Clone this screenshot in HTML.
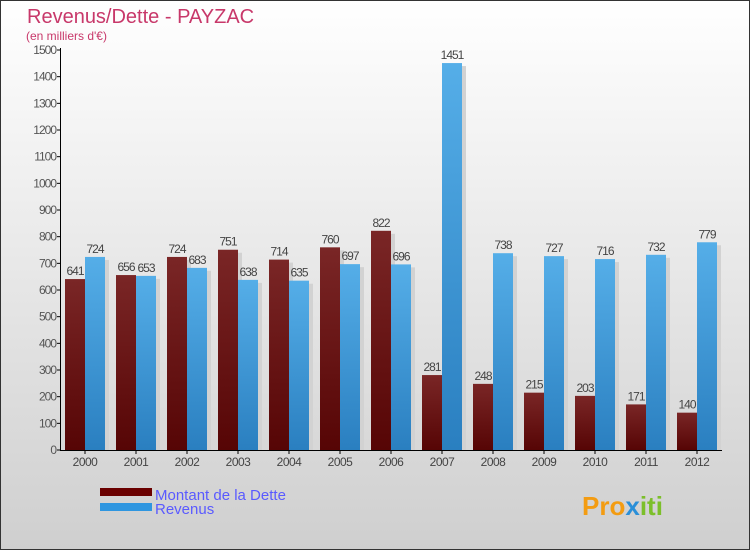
<!DOCTYPE html>
<html><head><meta charset="utf-8"><style>
body{margin:0}
svg{display:block;font-family:"Liberation Sans",sans-serif}
</style></head><body>
<svg id="c" width="750" height="550">
<defs>
<linearGradient id="bg" x1="0" y1="0" x2="0" y2="1"><stop offset="0" stop-color="#ffffff"/><stop offset="1" stop-color="#cfcfcf"/></linearGradient>
<linearGradient id="gd" x1="0" y1="0" x2="0" y2="1"><stop offset="0" stop-color="#7a2626"/><stop offset="1" stop-color="#560505"/></linearGradient>
<linearGradient id="gr" x1="0" y1="0" x2="0" y2="1"><stop offset="0" stop-color="#55aee8"/><stop offset="1" stop-color="#2a7fc0"/></linearGradient>
</defs>
<rect x="0.5" y="0.5" width="749" height="549" fill="url(#bg)" stroke="#333"/>
<text x="27" y="23" font-size="20" fill="#c8386a">Revenus/Dette - PAYZAC</text>
<text x="26" y="40" font-size="12" fill="#c8386a">(en milliers d'€)</text>
<g id="axes"></g><g id="bars"></g>
<rect x="100" y="488" width="52" height="8" fill="#6a0000"/>
<text x="155" y="500" font-size="15" fill="#5a5aff">Montant de la Dette</text>
<rect x="100" y="503" width="52" height="8" fill="#2f96e0"/>
<text x="155" y="514" font-size="15" fill="#5a5aff">Revenus</text>
<text x="582" y="515" font-size="26" font-weight="bold" fill="#f39c12">Pro<tspan fill="#2a8fd8">x</tspan><tspan fill="#7cbf2a">iti</tspan></text>
</svg>
<script>
const categories=["2000","2001","2002","2003","2004","2005","2006","2007","2008","2009","2010","2011","2012"];
const dette=[641,656,724,751,714,760,822,281,248,215,203,171,140];
const revenus=[724,653,683,638,635,697,696,1451,738,727,716,732,779];
const yTicks=[0,100,200,300,400,500,600,700,800,900,1000,1100,1200,1300,1400,1500];
const NS="http://www.w3.org/2000/svg";
const y=v=>450-v*400/1500;
const xc=i=>85+i*51;
function el(t,a,p){const e=document.createElementNS(NS,t);for(const k in a)e.setAttribute(k,a[k]);p.appendChild(e);return e;}
const ax=document.getElementById('axes'),bg=document.getElementById('bars');
yTicks.forEach(v=>{
 const l=el('line',{x1:57,x2:61,y1:y(v),y2:y(v),stroke:'#000'},ax);
 
 
 const t=el('text',{x:56,y:y(v)+4,'text-anchor':'end','font-size':12,fill:'#555','letter-spacing':'-1'},ax);t.textContent=v;
 
 
});
categories.forEach((c,i)=>{
 const cx=xc(i);
 [[dette[i],cx-20,'url(#gd)','bar-dette'],[revenus[i],cx,'url(#gr)','bar-revenus']].forEach(([v,x,f,n])=>{
  el('rect',{x:x+20,y:y(v)+3,width:4,height:450-y(v)-3,fill:'#d2d2d2'},bg);
  const r=el('rect',{x:x,y:y(v),width:20,height:450-y(v),fill:f},bg);
  
  
  const t=el('text',{x:x+10,y:y(v)-4,'text-anchor':'middle','font-size':12,fill:'#444','letter-spacing':'-1'},bg);t.textContent=v;
  
  
 });
 const tk=el('line',{x1:cx,x2:cx,y1:450,y2:454,stroke:'#000'},ax);
 
 
 const t=el('text',{x:cx,y:466,'text-anchor':'middle','font-size':12,fill:'#444','letter-spacing':'-0.5'},ax);t.textContent=c;
 
 
});
const ya=el('line',{x1:60.5,x2:60.5,y1:48,y2:451,stroke:'#000'},ax);


const xa=el('line',{x1:60,x2:722,y1:450.5,y2:450.5,stroke:'#000'},ax);


</script>
</body></html>
